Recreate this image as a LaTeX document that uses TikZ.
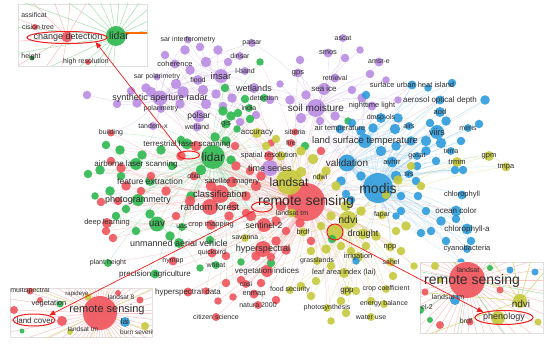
\documentclass[tikz,border=0pt]{standalone}
\usepackage{fontspec}
\setmainfont{Liberation Sans}
\usetikzlibrary{arrows.meta,shapes.geometric,shadows}
\pgfdeclarelayer{edges}
\pgfdeclarelayer{labels}
\pgfdeclarelayer{insets}
\pgfsetlayers{edges,main,labels,insets}
\definecolor{ink}{HTML}{2E2E2E}
\definecolor{cred}{HTML}{F0545C}
\definecolor{cgreen}{HTML}{2DB84E}
\definecolor{cblue}{HTML}{2E9CDC}
\definecolor{cyellow}{HTML}{C6C93B}
\definecolor{cpurple}{HTML}{B98CE3}
\definecolor{hlred}{HTML}{F01E1E}
% one keyword: name, x, y, colour, bubble size, font size, text
\newcommand{\term}[7]{%
  \node[bub=#4,minimum size=#5] (#1) at (#2,#3) {};
  \begin{pgfonlayer}{labels}
    \node[lab,font=\fontsize{#6}{#6}\selectfont] (#1-t) at (#2,#3) {#7};
  \end{pgfonlayer}}

\begin{document}
\begin{tikzpicture}[x=1pt,y=-1pt,
  bub/.style={circle,fill=#1,fill opacity=0.9,draw=none,inner sep=0pt},
  lab/.style={text=ink,inner sep=0pt},
  edge/.style={draw=#1,line width=0.4pt,draw opacity=0.5},
  insetbox/.style={draw=black!12,fill=white,line width=0.4pt,
                   drop shadow={shadow xshift=1.2pt,shadow yshift=-1.2pt,opacity=0.3}},
  hlring/.style={draw=hlred,line width=1pt,fill=none,inner sep=0pt},
  hlarrow/.style={-{Triangle[length=6pt,width=5pt]},hlred,line width=0.7pt}]
  \useasboundingbox (0,0) rectangle (550,345);
  \begin{pgfonlayer}{edges}
    \fill[white] (0,0) rectangle (550,345);
  \end{pgfonlayer}

  % purple cluster
  \term{sarint}{188}{40}{cpurple}{7}{7}{sar interferometry}
  \term{palsar}{252}{43}{cpurple}{8}{7}{palsar}
  \term{dinsar}{240}{56}{cpurple}{8}{7}{dinsar}
  \term{lband}{245}{71}{cpurple}{8}{7}{l-band}
  \term{coher}{175}{64}{cpurple}{9}{7.5}{coherence}
  \term{insar}{221}{76}{cpurple}{14}{9.5}{insar}
  \term{sarpol}{157}{77}{cpurple}{7}{7}{sar polarimetry}
  \term{flood}{198}{80}{cpurple}{10}{7}{flood}
  \term{sar}{160}{98}{cpurple}{15}{9}{synthetic aperture radar}
  \term{wetlands}{254}{88}{cpurple}{10}{9}{wetlands}
  \term{polarim}{161}{109}{cpurple}{8}{7}{polarimetry}
  \term{polsar}{199}{116}{cpurple}{12}{8.5}{polsar}
  \term{tandem}{153}{126}{cpurple}{8}{7}{tandem-x}
  \term{wetland}{197}{127}{cpurple}{9}{7}{wetland}
  \term{gps}{298}{73}{cpurple}{9}{7.5}{gps}
  \term{ascat}{343}{38}{cpurple}{8}{7}{ascat}
  \term{smos}{328}{53}{cpurple}{9}{7.5}{smos}
  \term{amsre}{379}{62}{cpurple}{9}{7}{amsr-e}
  \term{retriev}{335}{78}{cpurple}{9}{7}{retrieval}
  \term{seaice}{324}{89}{cpurple}{12}{8}{sea ice}
  \term{soilm}{316}{108}{cpurple}{18}{10}{soil moisture}
  \term{night}{372}{106}{cpurple}{9}{7.5}{nighttime light}
  \term{tseries}{270}{168}{cpurple}{16}{9}{time series}

  % green cluster
  \term{lidar}{213}{157}{cgreen}{24}{12}{lidar}
  \term{tls}{187}{144}{cgreen}{11}{8}{terrestrial laser scanning}
  \term{als}{136}{164}{cgreen}{12}{8}{airborne laser scanning}
  \term{feat}{150}{181}{cgreen}{10}{8.5}{feature extraction}
  \term{photo}{138}{200}{cgreen}{12}{9}{photogrammetry}
  \term{uav}{157}{224}{cgreen}{15}{10}{uav}
  \term{uas}{182}{227}{cgreen}{8}{7}{uas}
  \term{uavh}{179}{243}{cgreen}{10}{9}{unmanned aerial vehicle}
  \term{plant}{108}{263}{cgreen}{8}{7}{plant height}
  \term{gis}{226}{124}{cgreen}{9}{7.5}{gis}
  \term{detect}{264}{98}{cgreen}{8}{7}{detection}
  \term{india}{249}{108}{cgreen}{8}{7}{india}
  \term{wheat}{216}{265}{cgreen}{8}{7}{wheat}
  \term{prec}{155}{274}{cgreen}{9}{8}{precision agriculture}

  % red cluster
  \term{rs}{306}{202}{cred}{38}{14}{remote sensing}
  \term{classif}{220}{194}{cred}{18}{9.5}{classification}
  \term{rf}{210}{207}{cred}{16}{9.5}{random forest}
  \term{satim}{232}{182}{cred}{11}{7.5}{satellite imagery}
  \term{obia}{194}{176}{cred}{9}{7}{obia}
  \term{spres}{269}{156}{cred}{10}{7.5}{spatial resolution}
  \term{sent}{264}{225}{cred}{14}{8.5}{sentinel-2}
  \term{crop}{211}{225}{cred}{10}{7.5}{crop mapping}
  \term{hyper}{263}{249}{cred}{16}{9}{hyperspectral}
  \term{quick}{212}{253}{cred}{9}{7}{quickbird}
  \term{hymap}{173}{261}{cred}{9}{7}{hymap}
  \term{vegind}{267}{271}{cred}{12}{8}{vegetation indices}
  \term{hypdata}{188}{292}{cred}{9}{8}{hyperspectral data}
  \term{casi}{246}{284}{cred}{8}{7}{casi}
  \term{enmap}{254}{294}{cred}{9}{7.5}{enmap}
  \term{natura}{258}{305}{cred}{8}{7}{natura 2000}
  \term{citizen}{216}{317}{cred}{8}{7}{citizen science}
  \term{build}{111}{133}{cred}{7}{7}{building}
  \term{siberia}{295}{132}{cred}{7}{7}{siberia}
  \term{fire}{291}{143}{cred}{8}{7}{fire}
  \term{deep}{107}{223}{cred}{10}{7.5}{deep learning}

  % yellow cluster
  \term{landsat}{289}{182}{cyellow}{26}{12}{landsat}
  \term{ndvi}{348}{220}{cyellow}{18}{10.5}{ndvi}
  \term{drought}{363}{234}{cyellow}{11}{9}{drought}
  \term{npp}{390}{247}{cyellow}{9}{7.5}{npp}
  \term{grass}{317}{261}{cyellow}{8}{7}{grasslands}
  \term{irrig}{358}{257}{cyellow}{10}{7.5}{irrigation}
  \term{sahel}{391}{262}{cyellow}{9}{7}{sahel}
  \term{lai}{344}{273}{cyellow}{10}{7.5}{leaf area index (lai)}
  \term{gpp}{347}{291}{cyellow}{10}{8}{gpp}
  \term{cropcoef}{386}{289}{cyellow}{8}{7}{crop coefficient}
  \term{energy}{384}{304}{cyellow}{8}{7}{energy balance}
  \term{photosyn}{327}{308}{cyellow}{8}{7}{photosynthesis}
  \term{wateruse}{371}{317}{cyellow}{8}{7}{water use}
  \term{fapar}{382}{215}{cyellow}{9}{7}{fapar}
  \term{trmm}{457}{162}{cyellow}{10}{7.5}{trmm}
  \term{gpm}{489}{156}{cyellow}{10}{7.5}{gpm}
  \term{tmpa}{506}{167}{cyellow}{9}{7.5}{tmpa}
  \term{ndwi}{320}{177}{cyellow}{8}{7}{ndwi}
  \term{brdf}{303}{232}{cyellow}{9}{7.5}{brdf}
  \term{lstm}{292}{213}{cyellow}{9}{7}{landsat tm}
  \term{food}{290}{290}{cyellow}{8}{7}{food security}
  \term{savanna}{245}{238}{cyellow}{8}{7}{savanna}
  \term{accur}{257}{133}{cyellow}{10}{8}{accuracy}
  \node[bub=cyellow,minimum size=15] (phen) at (335,232) {};

  % blue cluster
  \term{modis}{378}{188}{cblue}{30}{14}{modis}
  \term{valid}{347}{163}{cblue}{17}{10}{validation}
  \term{lst}{365}{141}{cblue}{14}{9.5}{land surface temperature}
  \term{airtemp}{340}{129}{cblue}{9}{7.5}{air temperature}
  \term{dmsp}{381}{118}{cblue}{10}{7}{dmsp-ols}
  \term{suhi}{412}{85}{cblue}{9}{7.5}{surface urban heat island}
  \term{aerosol}{440}{100}{cblue}{9}{8}{aerosol optical depth}
  \term{aod}{440}{112}{cblue}{10}{7.5}{aod}
  \term{airs}{409}{126}{cblue}{8}{7}{airs}
  \term{viirs}{437}{132}{cblue}{14}{9}{viirs}
  \term{meris}{468}{128}{cblue}{8}{7}{meris}
  \term{terra}{451}{151}{cblue}{8}{7}{terra}
  \term{gosat}{417}{156}{cblue}{8}{7}{gosat}
  \term{tirs}{409}{174}{cblue}{8}{7}{tirs}
  \term{avhrr}{392}{162}{cblue}{11}{7.5}{avhrr}
  \term{chloro}{462}{195}{cblue}{9}{7.5}{chlorophyll}
  \term{ocean}{456}{211}{cblue}{11}{8}{ocean color}
  \term{chla}{467}{229}{cblue}{11}{8}{chlorophyll-a}
  \term{cyano}{467}{249}{cblue}{8}{7.5}{cyanobacteria}

  % unlabelled bubbles, each tied to its hub
  \foreach \x/\y/\s/\h [count=\i] in {165/55/7/insar,185/50/8/insar,200/47/7/insar,218/50/8/insar,
      228/62/7/insar,206/62/9/insar,190/70/8/insar,176/84/9/sar,146/88/8/sar,131/91/7/sar,
      137/103/8/sar,151/92/9/sar,183/92/10/sar,203/90/9/sar,216/94/8/insar,232/98/8/insar,
      206/104/9/sar,223/106/7/sar,180/104/8/sar,240/122/7/sar,87/95/7/sar,117/104/7/sar,
      300/60/7/soilm,345/58/7/soilm,360/50/6/soilm,370/74/7/soilm,306/95/8/soilm,352/90/7/soilm,
      362/98/8/soilm,290/100/8/soilm,301/118/9/soilm,335/116/8/soilm,320/121/7/soilm,
      386/80/6/soilm,398/100/6/soilm,270/100/7/soilm,280/84/6/soilm,256/115/7/sar}{
    \node[bub=cpurple,minimum size=\s+1.5] (p\i) at (\x,\y) {};
    \begin{pgfonlayer}{edges}
      \draw[edge=cpurple!70] (\h) to[bend left=12] (p\i);
    \end{pgfonlayer}}
  \foreach \x/\y/\s/\h [count=\i] in {260/62/6/lidar,225/88/7/lidar,245/99/7/lidar,223/111/8/lidar,
      231/116/8/lidar,238/113/7/lidar,250/119/7/lidar,237/129/6/lidar,215/137/8/lidar,181/140/7/lidar,
      161/150/8/lidar,142/155/8/als,100/170/8/als,88/174/7/als,121/176/7/als,110/191/8/photo,
      95/196/6/photo,126/209/7/photo,116/216/7/uav,150/214/8/uav,136/231/7/uav,170/236/8/uav,
      191/196/8/lidar,201/170/9/lidar,231/160/8/lidar,172/166/7/lidar,210/240/7/uav,241/262/6/lidar,
      271/263/7/lidar,200/268/6/uav,332/239/7/rs,305/146/7/lidar,348/121/6/soilm,226/141/8/lidar,
      120/150/8/als,106/145/7/als}{
    \node[bub=cgreen,minimum size=\s+1.5] (g\i) at (\x,\y) {};
    \begin{pgfonlayer}{edges}
      \draw[edge=cgreen!60] (\h) to[bend left=10] (g\i);
      \draw[edge=cred!45] (rs) to[bend right=8] (g\i);
    \end{pgfonlayer}}
  \foreach \x/\y/\s/\h [count=\i] in {181/156/8/classif,196/146/9/classif,236/166/8/rs,250/171/7/rs,
      256/186/9/rs,246/196/8/rs,233/206/8/rs,246/213/7/rs,229/216/8/rs,211/186/9/classif,
      190/201/9/classif,176/216/7/classif,166/191/8/classif,151/176/7/classif,121/168/8/classif,
      111/161/7/classif,126/186/8/classif,118/201/7/classif,101/202/7/classif,106/231/7/classif,
      113/238/7/classif,141/191/7/classif,281/206/9/rs,276/221/8/rs,286/231/7/rs,300/223/8/rs,
      276/241/8/rs,256/256/8/rs,271/257/7/rs,286/250/8/rs,226/256/7/rs,241/280/7/rs,226/283/7/rs,
      261/283/7/rs,233/297/6/rs,276/300/7/rs,218/301/6/rs,271/143/6/rs,261/176/8/rs,311/241/7/rs,
      321/151/7/rs,251/216/9/rs,206/291/6/rs,235/146/7/rs}{
    \node[bub=cred,minimum size=\s+1.5] (r\i) at (\x,\y) {};
    \begin{pgfonlayer}{edges}
      \draw[edge=cred!60] (\h) to[bend left=10] (r\i);
      \draw[edge=cgreen!45] (lidar) to[bend left=8] (r\i);
    \end{pgfonlayer}}
  \foreach \x/\y/\s/\h [count=\i] in {352/123/7/lst,361/131/8/lst,373/128/8/lst,395/129/9/lst,
      411/141/8/modis,426/141/9/modis,430/123/7/modis,446/121/8/modis,426/151/8/modis,436/161/7/modis,
      441/143/9/modis,396/146/8/modis,381/151/9/modis,361/176/8/modis,396/176/9/modis,401/196/7/modis,
      418/196/7/modis,426/211/7/modis,441/221/8/modis,456/219/7/modis,471/241/7/modis,461/262/6/modis,
      431/231/7/modis,446/241/7/modis,401/211/7/modis,341/181/8/modis,351/200/7/modis,396/216/6/modis,
      416/181/7/modis,366/95/7/lst,398/118/8/lst,452/83/7/lst,485/100/8/modis,428/88/6/lst,
      461/141/7/modis,479/124/7/modis,417/166/7/modis,421/233/7/modis,356/261/6/modis,346/194/7/modis,
      455/170/7/modis,463/170/7/modis}{
    \node[bub=cblue,minimum size=\s+1.5] (b\i) at (\x,\y) {};
    \begin{pgfonlayer}{edges}
      \draw[edge=cblue!55] (\h) to[bend left=10] (b\i);
      \draw[edge=cblue!40] (valid) to[bend right=10] (b\i);
    \end{pgfonlayer}}
  \foreach \x/\y/\s/\h [count=\i] in {266/146/7/landsat,276/139/7/landsat,281/156/8/landsat,
      301/151/8/landsat,313/159/9/landsat,326/171/8/landsat,301/172/9/landsat,336/186/8/ndvi,
      346/206/9/ndvi,361/211/8/ndvi,331/216/8/ndvi,321/226/7/ndvi,311/251/7/ndvi,326/249/8/ndvi,
      341/246/7/ndvi,351/251/7/ndvi,366/246/7/ndvi,376/236/8/ndvi,396/231/7/ndvi,401/251/7/ndvi,
      331/266/7/ndvi,316/281/7/ndvi,301/286/7/ndvi,311/296/7/ndvi,341/301/7/ndvi,356/291/7/ndvi,
      371/301/7/ndvi,331/321/6/ndvi,346/313/7/ndvi,393/276/7/ndvi,406/226/8/ndvi,411/166/7/modis,
      421/186/7/modis,414/266/6/ndvi,386/195/7/ndvi,398/180/8/modis}{
    \node[bub=cyellow,minimum size=\s+1.5] (y\i) at (\x,\y) {};
    \begin{pgfonlayer}{edges}
      \draw[edge=cyellow!70] (\h) to[bend left=10] (y\i);
      \draw[edge=cred!40] (rs) to[bend left=8] (y\i);
    \end{pgfonlayer}}

  % links between the keywords
  \begin{pgfonlayer}{edges}
    \foreach \t in {classif,rf,satim,obia,spres,sent,crop,hyper,quick,hymap,vegind,hypdata,casi,
        enmap,natura,citizen,build,lidar,tls,als,feat,photo,deep,uav,uavh,landsat,modis,valid,lst,
        soilm,sar,tseries,ndvi,drought,insar,wetlands,lstm,fire,siberia,gis,accur,food,savanna,
        plant,prec,wetland,polsar,night,airtemp,chla,ocean,lai,gpp,irrig,phen,brdf,coher,sarpol,
        polarim,tandem,seaice,gps,dmsp,suhi,aerosol,viirs,npp,grass,cropcoef,photosyn}
      \draw[edge=cred!55] (rs) to[bend left=8] (\t);
    \foreach \t in {tls,als,feat,photo,deep,uav,uas,uavh,plant,gis,detect,india,wheat,prec,build,
        classif,obia,rf,satim,insar,sar,polsar,tandem,accur,spres,hymap,quick,crop,sent,tseries}
      \draw[edge=cgreen!55] (lidar) to[bend right=10] (\t);
    \foreach \t in {sarint,palsar,dinsar,lband,coher,insar,sarpol,flood,wetlands,polarim,polsar,
        tandem,wetland,soilm,detect,india,gis,build,als,tls}
      \draw[edge=cpurple!65] (sar) to[bend left=14] (\t);
    \foreach \t in {gps,ascat,smos,amsre,retriev,seaice,night,tseries,palsar,valid,lst,wetlands,
        airtemp,siberia,dmsp,suhi,landsat,modis}
      \draw[edge=cpurple!65] (soilm) to[bend right=14] (\t);
    \foreach \t in {sarint,palsar,dinsar,lband,coher,flood,wetlands}
      \draw[edge=cpurple!65] (insar) to[bend left=14] (\t);
    \foreach \t in {valid,lst,airtemp,dmsp,suhi,aerosol,aod,airs,viirs,meris,terra,gosat,tirs,
        avhrr,chloro,ocean,chla,cyano,ndvi,landsat,fapar,npp,trmm,soilm,night,tseries,drought,
        gpm,tmpa,sahel,phen}
      \draw[edge=cblue!50] (modis) to[bend left=10] (\t);
    \foreach \t in {airtemp,suhi,dmsp,airs,viirs,tirs,night,landsat,aerosol,gosat,siberia}
      \draw[edge=cblue!50] (lst) to[bend right=12] (\t);
    \foreach \t in {drought,npp,grass,irrig,sahel,lai,gpp,cropcoef,energy,photosyn,wateruse,
        fapar,ndwi,brdf,food,savanna,phen,trmm,gpm,tmpa,landsat,vegind,hyper}
      \draw[edge=cyellow!75] (ndvi) to[bend left=10] (\t);
    \foreach \t in {accur,ndwi,tseries,spres,sent,lstm,savanna,fire,siberia,vegind,classif,rf}
      \draw[edge=cyellow!75] (landsat) to[bend right=10] (\t);
    \draw[edge=cyellow!75] (gpm) to[bend left=10] (tmpa);
    \draw[edge=cyellow!75] (trmm) to[bend left=10] (gpm);
    \foreach \t in {chloro,ocean,cyano}
      \draw[edge=cblue!50] (chla) to[bend left=10] (\t);
  \end{pgfonlayer}

  \begin{pgfonlayer}{insets}
    % top-left close-up
    \node[insetbox,minimum width=129,minimum height=62] (ins1) at (82.5,35) {};
    \begin{scope}
      \clip (18,4) rectangle (147,66);
      \foreach \a in {95,110,...,350}
        \draw[cgreen!45,line width=0.5pt] (116,36) -- ++(\a:120);
      \foreach \a in {100,125,...,300}
        \draw[cred!40,line width=0.5pt] (67,37) -- ++(\a:90);
      \draw[orange!85!red,line width=1.3pt] (116,33) -- (150,33);
      \node[bub=cred,minimum size=6] (i1a) at (35,27) {};
      \node[bub=cred,minimum size=11] (i1b) at (67,37) {};
      \node[bub=cred,minimum size=6] (i1c) at (88,62) {};
      \node[bub=cgreen!70!black,minimum size=5] (i1d) at (32,58) {};
      \node[bub=cgreen,minimum size=20] (i1lidar) at (116,36) {};
      \node[lab,font=\fontsize{7}{7}\selectfont] (i1t1) at (34,15) {assificat};
      \node[lab,font=\fontsize{7}{7}\selectfont] (i1t2) at (38,27) {cision tree};
      \node[lab,font=\fontsize{9}{9}\selectfont] (i1t3) at (68,37) {change detection};
      \node[lab,font=\fontsize{10.5}{10.5}\selectfont] (i1t4) at (119,36) {lidar};
      \node[lab,font=\fontsize{7}{7}\selectfont] (i1t5) at (31,57) {height};
      \node[lab,font=\fontsize{7}{7}\selectfont] (i1t6) at (86,62) {high resolution};
    \end{scope}
    % bottom-left close-up
    \node[insetbox,minimum width=142,minimum height=49] (ins2) at (81,312.5) {};
    \begin{scope}
      \clip (10,288) rectangle (152,337);
      \foreach \a in {0,7,...,359}
        \draw[cred!35,line width=0.5pt] (100,313) -- ++(\a:120);
      \foreach \a in {20,65,...,340}
        \draw[cyellow!60,line width=0.5pt] (100,313) -- ++(\a:120);
      \foreach \x/\y/\s/\c [count=\i] in {30/291/7/cred,60/304/7/cgreen,88/297/7/cyellow,
          70/332/6/cyellow,14/310/8/cred,22/331/5/cgreen,140/300/7/cred,145/326/8/cyellow,
          40/300/6/cred,62/321/10/cred,125/322/10/cblue,118/293/6/cred}
        \node[bub=\c,minimum size=\s] (i2b\i) at (\x,\y) {};
      \node[bub=cred,minimum size=34] (i2rs) at (100,313) {};
      \node[lab,font=\fontsize{7}{7}\selectfont] (i2t1) at (30,291) {multispectral};
      \node[lab,font=\fontsize{6}{6}\selectfont] (i2t2) at (77,294) {rapideye};
      \node[lab,font=\fontsize{6.5}{6.5}\selectfont] (i2t3) at (121,297) {landsat 8};
      \node[lab,font=\fontsize{7.5}{7.5}\selectfont] (i2t4) at (49,304) {vegetation};
      \node[lab,font=\fontsize{11}{11}\selectfont] (i2t5) at (107,310) {remote sensing};
      \node[lab,font=\fontsize{8}{8}\selectfont] (i2t6) at (35,321) {land cover};
      \node[lab,font=\fontsize{8}{8}\selectfont] (i2t7) at (125,322) {lai};
      \node[lab,font=\fontsize{6.5}{6.5}\selectfont] (i2t8) at (83,329) {landsat tm};
      \node[lab,font=\fontsize{6.5}{6.5}\selectfont,anchor=west] (i2t9) at (120,333) {burn severity};
    \end{scope}
    % bottom-right close-up
    \node[insetbox,minimum width=123,minimum height=71] (ins3) at (481.5,297.5) {};
    \begin{scope}
      \clip (420,262) rectangle (543,333);
      \foreach \a in {0,8,...,359}
        \draw[cred!35,line width=0.5pt] (467,280) -- ++(\a:130);
      \foreach \a in {10,55,...,350}
        \draw[cgreen!45,line width=0.5pt] (467,280) -- ++(\a:130);
      \foreach \a in {160,185,...,330}
        \draw[cyellow!70,line width=0.6pt] (520,301) -- ++(\a:120);
      \foreach \x/\y/\s/\c [count=\i] in {455/300/10/cblue,440/325/8/cred,430/320/6/cgreen,
          440/280/6/cyellow,500/290/7/cred,535/272/7/cblue,420/310/8/cgreen,435/266/8/cyellow,
          510/270/7/cblue,490/268/6/cgreen,425/292/7/cred,470/322/7/cred,538/322/7/cyellow}
        \node[bub=\c,minimum size=\s] (i3b\i) at (\x,\y) {};
      \node[bub=cred,minimum size=36] (i3rs) at (467,280) {};
      \node[bub=cyellow,minimum size=14] (i3ndvi) at (520,301) {};
      \node[bub=cyellow,minimum size=14] (i3phen) at (498,318) {};
      \node[lab,font=\fontsize{7}{7}\selectfont] (i3t1) at (468,270) {landsat};
      \node[lab,font=\fontsize{14}{14}\selectfont] (i3t2) at (472,281) {remote sensing};
      \node[lab,font=\fontsize{7}{7}\selectfont] (i3t3) at (448,297) {landsat tm};
      \node[lab,font=\fontsize{10}{10}\selectfont] (i3t4) at (521,304) {ndvi};
      \node[lab,font=\fontsize{9}{9}\selectfont] (i3t5) at (504,317) {phenology};
      \node[lab,font=\fontsize{7}{7}\selectfont] (i3t6) at (427,307) {el-2};
      \node[lab,font=\fontsize{7}{7}\selectfont] (i3t7) at (466,321) {brdf};
    \end{scope}

    % highlight rings and arrows
    \node[hlring,ellipse,minimum width=21,minimum height=8] (m1) at (189,155) {};
    \node[hlring,ellipse,minimum width=21,minimum height=10] (m2) at (262,207) {};
    \node[hlring,circle,minimum size=16] (m3) at (335,232) {};
    \node[hlring,ellipse,minimum width=80,minimum height=12] (e1) at (67,37.5) {};
    \node[hlring,ellipse,minimum width=42,minimum height=12] (e2) at (34,320) {};
    \node[hlring,ellipse,minimum width=58,minimum height=14] (e3) at (504,317.5) {};
    \draw[hlarrow] (m1.north west) -- (e1.south east);
    \draw[hlarrow] (m2.south west) -- (e2.north east);
    \draw[hlarrow] (m3.south east) -- (e3.north west);
  \end{pgfonlayer}
\end{tikzpicture}
\end{document}
